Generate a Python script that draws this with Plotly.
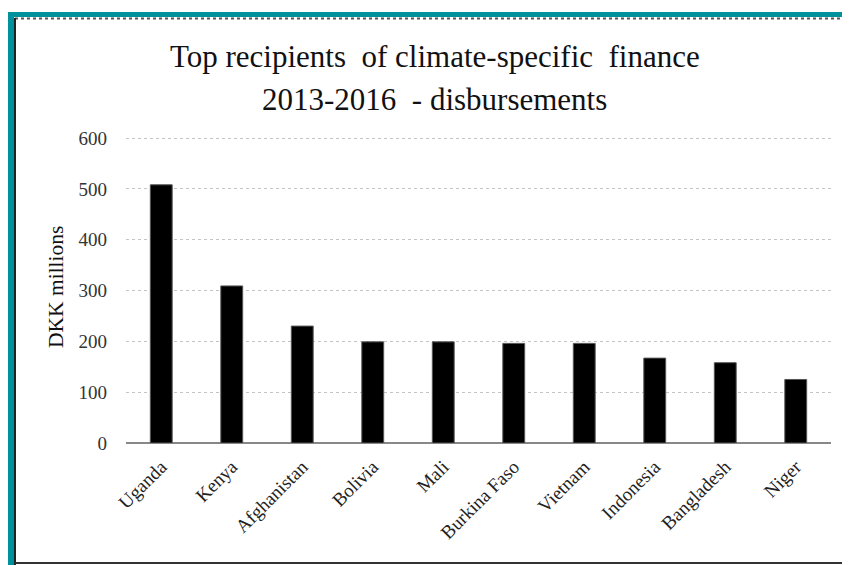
import plotly.graph_objects as go

countries = ["Uganda", "Kenya", "Afghanistan", "Bolivia", "Mali", "Burkina Faso",
             "Vietnam", "Indonesia", "Bangladesh", "Niger"]
values = [508, 309, 230, 199, 199, 196, 196, 167, 158, 125]
y_ticks = [0, 100, 200, 300, 400, 500, 600]

# page offset (body margin) compensation: screen = figure + 8
OFF = 8
W, H = 850, 565
YMAX = 606
L, R, T, B = 126 - OFF, 19 + OFF, 135 - OFF, 122 + OFF
pw, ph = W - L - R, H - T - B

def px(X):
    return (X - OFF - L) / pw

def py(Y):
    return (H - B - (Y - OFF)) / ph

serif = "Liberation Serif"

fig = go.Figure(go.Bar(
    x=countries, y=values, width=0.31,
    marker=dict(color="black", line=dict(color="#555555", width=1)),
))

fig.update_layout(
    width=W, height=H,
    margin=dict(l=L, r=R, t=T, b=B),
    paper_bgcolor="white", plot_bgcolor="white",
    showlegend=False,
    font=dict(family=serif, color="#222222"),
    xaxis=dict(tickangle=-45, tickfont=dict(size=19, family=serif, color="#222"),
               showgrid=False, showline=False, ticks="", range=[-0.5, 9.5],
               ticklabelstandoff=8),
    yaxis=dict(range=[0, YMAX], tickvals=y_ticks, tickfont=dict(size=19, family=serif, color="#333"),
               showgrid=True, gridcolor="#c4c4c4", griddash="dot", gridwidth=1,
               zeroline=True, zerolinecolor="#888888", zerolinewidth=2,
               ticklabelstandoff=18, showline=False),
    annotations=[
        dict(text="Top recipients  of climate-specific  finance", x=px(435), y=py(57),
             xanchor="center", yanchor="middle",
             xref="paper", yref="paper", showarrow=False, font=dict(size=31, family=serif, color="#111")),
        dict(text="2013-2016  - disbursements", x=px(434), y=py(99),
             xanchor="center", yanchor="middle",
             xref="paper", yref="paper", showarrow=False, font=dict(size=31, family=serif, color="#111")),
        dict(text="DKK millions", x=px(56), y=py(287), textangle=-90,
             xanchor="center", yanchor="middle",
             xref="paper", yref="paper", showarrow=False, font=dict(size=21.5, family=serif, color="#111")),
    ],
    shapes=[
        dict(type="rect", xref="paper", yref="paper", x0=px(8), x1=px(14), y0=py(575), y1=py(12),
             fillcolor="#00929C", line=dict(width=0), layer="above"),
        dict(type="rect", xref="paper", yref="paper", x0=px(8), x1=px(860), y0=py(17), y1=py(12),
             fillcolor="#00929C", line=dict(width=0), layer="above"),
        dict(type="line", xref="paper", yref="paper", x0=px(15), x1=px(860), y0=py(18.5), y1=py(18.5),
             line=dict(color="#555555", width=2, dash="dot")),
        dict(type="line", xref="paper", yref="paper", x0=px(15), x1=px(15), y0=py(18), y1=py(575),
             line=dict(color="#222222", width=2)),
        dict(type="line", xref="paper", yref="paper", x0=px(15), x1=px(860), y0=py(563), y1=py(563),
             line=dict(color="#333333", width=2)),
    ],
)

fig.write_html("out.html")
